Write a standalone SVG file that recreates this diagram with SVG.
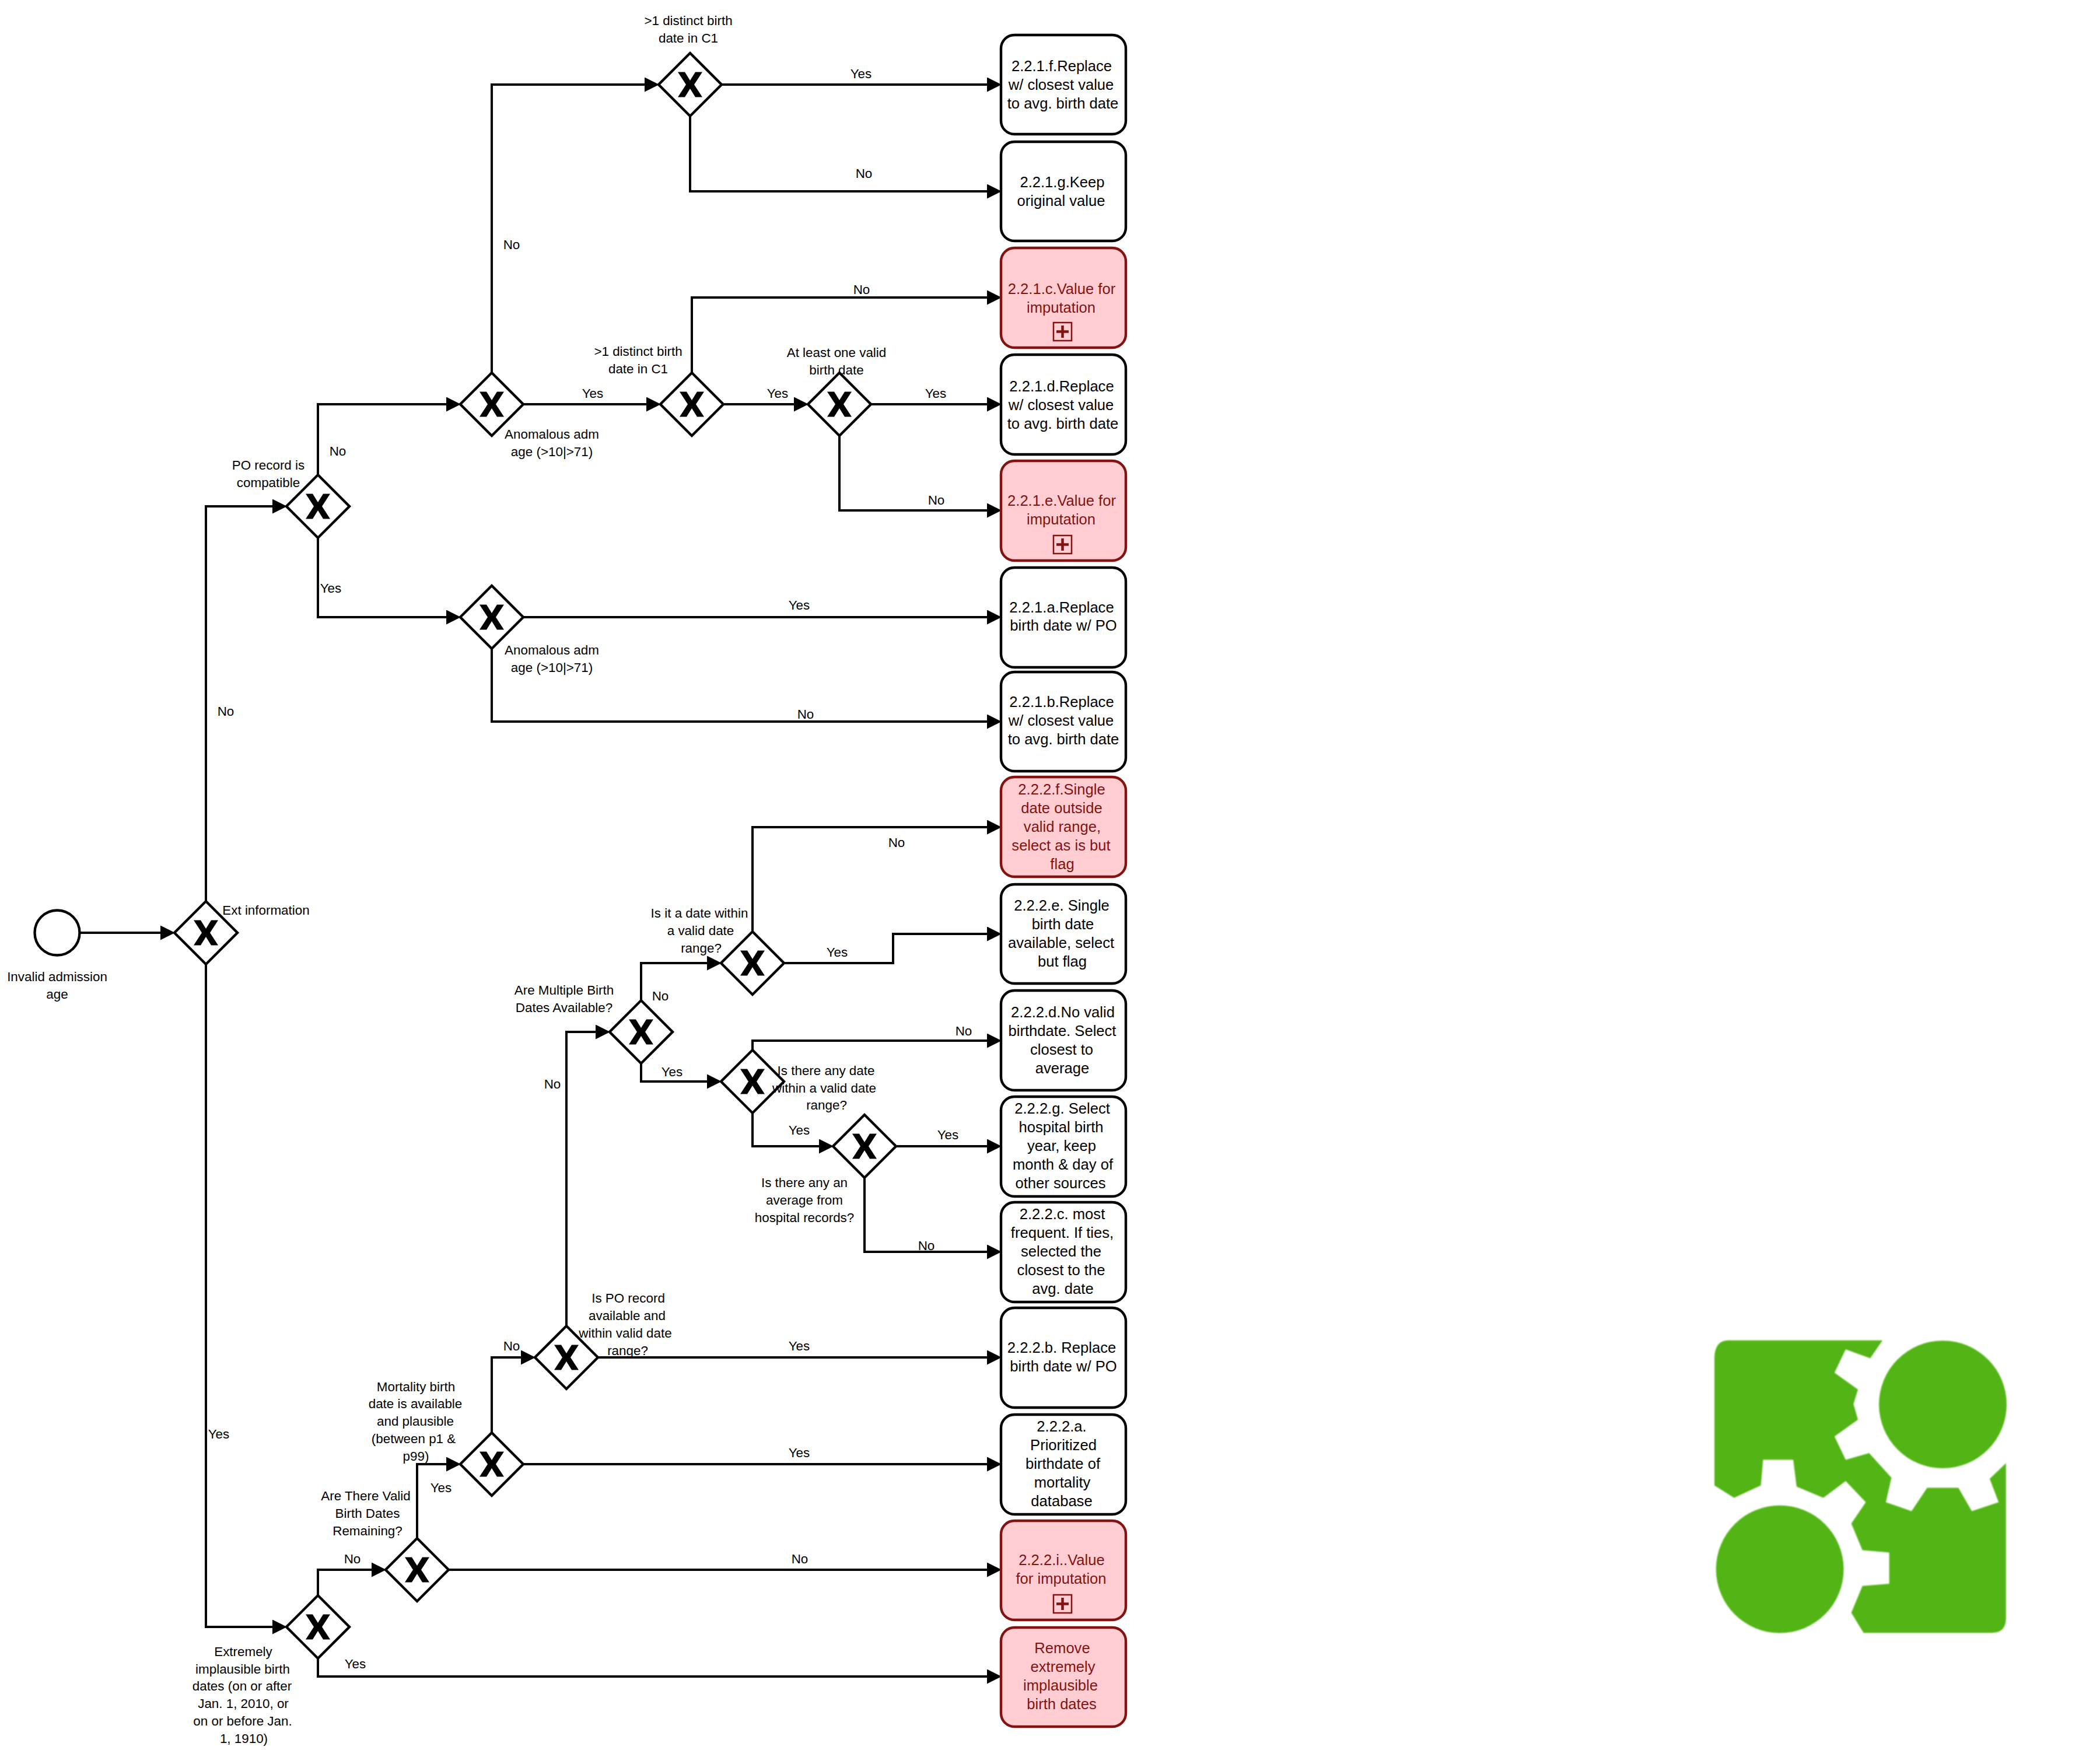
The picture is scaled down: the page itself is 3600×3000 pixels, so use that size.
<svg xmlns="http://www.w3.org/2000/svg" width="3600" height="3000" viewBox="0 0 3600 3000">
<style>
text{font-family:"Liberation Sans",Arial,sans-serif;text-anchor:middle;fill:#000}
.l{font-size:22.4px}
.t{font-size:25.6px}
.r{fill:#831311}
.box{fill:#fff;stroke:#000;stroke-width:4.4}
.red{fill:#ffcdd2;stroke:#831311;stroke-width:4.4}
.c{fill:none;stroke:#000;stroke-width:4;stroke-linejoin:miter;marker-end:url(#arrow)}
.gd{fill:#fff;stroke:#000;stroke-width:4.4;stroke-linejoin:miter}
.ev{fill:#fff;stroke:#000;stroke-width:4.4}
.mk{fill:none;stroke:#831311;stroke-width:2.5}
.mp{fill:none;stroke:#831311;stroke-width:4.5}
</style>
<defs>
<marker id="arrow" markerUnits="userSpaceOnUse" markerWidth="26" markerHeight="26" refX="14" refY="12.5" orient="auto"><polygon points="0,0 25,12.5 0,25" fill="#000"/></marker>
<g id="gw"><polygon class="gd" points="0,-54 54,0 0,54 -54,0"/><polygon fill="#000" points="-21,-21.5 -9,-21.5 0,-7 9,-21.5 21,-21.5 7,0 21,21.5 9,21.5 0,7 -9,21.5 -21,21.5 -7,0"/></g>
<g id="plus"><rect class="mk" x="0" y="0" width="31" height="31"/><path class="mp" d="M15.5 5V26M5 15.5H26"/></g>
<filter id="soft" x="-5%" y="-5%" width="110%" height="110%"><feGaussianBlur stdDeviation="3"/></filter>
</defs>
<rect width="3600" height="3000" fill="#fff"/>

<g id="connectors">
<path class="c" d="M137 1599H289"/>
<path class="c" d="M353 1545V868H481"/>
<path class="c" d="M353 1653V2789H481"/>
<path class="c" d="M545 814V693H779"/>
<path class="c" d="M545 922V1058H779"/>
<path class="c" d="M843 639V145H1119"/>
<path class="c" d="M897 693H1122"/>
<path class="c" d="M1237 145H1706"/>
<path class="c" d="M1183 199V328H1706"/>
<path class="c" d="M1186 639V510H1706"/>
<path class="c" d="M1240 693H1375"/>
<path class="c" d="M1493 693H1706"/>
<path class="c" d="M1439 747V875H1706"/>
<path class="c" d="M897 1058H1706"/>
<path class="c" d="M843 1112V1237H1706"/>
<path class="c" d="M1099 1715V1651H1226"/>
<path class="c" d="M1099 1823V1854H1226"/>
<path class="c" d="M1290 1597V1418H1706"/>
<path class="c" d="M1344 1651H1531V1601H1706"/>
<path class="c" d="M1290 1800V1784H1706"/>
<path class="c" d="M1290 1908V1965H1418"/>
<path class="c" d="M1536 1965H1706"/>
<path class="c" d="M1482 2019V2146H1706"/>
<path class="c" d="M971 2273V1769H1035"/>
<path class="c" d="M1025 2327H1706"/>
<path class="c" d="M843 2456V2327H907"/>
<path class="c" d="M897 2510H1706"/>
<path class="c" d="M715 2637V2510H779"/>
<path class="c" d="M769 2691H1706"/>
<path class="c" d="M545 2735V2691H651"/>
<path class="c" d="M545 2843V2874H1706"/>
<g id="connector-labels">
<text class="l" x="1476" y="134">Yes</text>
<text class="l" x="1481" y="305">No</text>
<text class="l" x="877" y="427">No</text>
<text class="l" x="1477" y="504">No</text>
<text class="l" x="1016" y="682">Yes</text>
<text class="l" x="1333" y="682">Yes</text>
<text class="l" x="1604" y="682">Yes</text>
<text class="l" x="1605" y="865">No</text>
<text class="l" x="579" y="781">No</text>
<text class="l" x="567" y="1016">Yes</text>
<text class="l" x="387" y="1227">No</text>
<text class="l" x="1370" y="1045">Yes</text>
<text class="l" x="1381" y="1232">No</text>
<text class="l" x="1537" y="1452">No</text>
<text class="l" x="1435" y="1640">Yes</text>
<text class="l" x="1132" y="1715">No</text>
<text class="l" x="1152" y="1845">Yes</text>
<text class="l" x="1652" y="1775">No</text>
<text class="l" x="947" y="1866">No</text>
<text class="l" x="1370" y="1945">Yes</text>
<text class="l" x="1625" y="1953">Yes</text>
<text class="l" x="1588" y="2143">No</text>
<text class="l" x="877" y="2315">No</text>
<text class="l" x="1370" y="2315">Yes</text>
<text class="l" x="375" y="2466">Yes</text>
<text class="l" x="1370" y="2498">Yes</text>
<text class="l" x="756" y="2558">Yes</text>
<text class="l" x="604" y="2680">No</text>
<text class="l" x="1371" y="2680">No</text>
<text class="l" x="609" y="2860">Yes</text>
</g>
</g>

<g id="start"><circle class="ev" cx="98" cy="1599" r="38.5"/>
<text class="l" x="98" y="1682">Invalid admission</text><text class="l" x="98" y="1712">age</text></g>

<g id="gw-ext"><use href="#gw" x="353" y="1599"/><text class="l" x="456" y="1568">Ext information</text></g>
<g id="gw-po"><use href="#gw" x="545" y="868"/><text class="l" x="460" y="805">PO record is</text><text class="l" x="460" y="835">compatible</text></g>
<g id="gw-anom1"><use href="#gw" x="843" y="693"/><text class="l" x="946" y="752">Anomalous adm</text><text class="l" x="946" y="782">age (&gt;10|&gt;71)</text></g>
<g id="gw-anom2"><use href="#gw" x="843" y="1058"/><text class="l" x="946" y="1122">Anomalous adm</text><text class="l" x="946" y="1152">age (&gt;10|&gt;71)</text></g>
<g id="gw-distinct1"><use href="#gw" x="1183" y="145"/><text class="l" x="1180" y="43">&gt;1 distinct birth</text><text class="l" x="1180" y="73">date in C1</text></g>
<g id="gw-distinct2"><use href="#gw" x="1186" y="693"/><text class="l" x="1094" y="610">&gt;1 distinct birth</text><text class="l" x="1094" y="640">date in C1</text></g>
<g id="gw-atleast"><use href="#gw" x="1439" y="693"/><text class="l" x="1434" y="612">At least one valid</text><text class="l" x="1434" y="642">birth date</text></g>
<g id="gw-multiple"><use href="#gw" x="1099" y="1769"/><text class="l" x="967" y="1705">Are Multiple Birth</text><text class="l" x="967" y="1735">Dates Available?</text></g>
<g id="gw-isdate"><use href="#gw" x="1290" y="1651"/><text class="l" x="1199" y="1573">Is it a date within</text><text class="l" x="1201" y="1603">a valid date</text><text class="l" x="1202" y="1633">range?</text></g>
<g id="gw-anydate"><use href="#gw" x="1290" y="1854"/><text class="l" x="1416" y="1843">Is there any date</text><text class="l" x="1413" y="1873">within a valid date</text><text class="l" x="1417" y="1902">range?</text></g>
<g id="gw-hospital"><use href="#gw" x="1482" y="1965"/><text class="l" x="1379" y="2035">Is there any an</text><text class="l" x="1379" y="2065">average from</text><text class="l" x="1379" y="2095">hospital records?</text></g>
<g id="gw-porecord"><use href="#gw" x="971" y="2327"/><text class="l" x="1077" y="2233">Is PO record</text><text class="l" x="1075" y="2263">available and</text><text class="l" x="1072" y="2293">within valid date</text><text class="l" x="1076" y="2323">range?</text></g>
<g id="gw-mortality"><use href="#gw" x="843" y="2510"/><text class="l" x="713" y="2385">Mortality birth</text><text class="l" x="712" y="2414">date is available</text><text class="l" x="712" y="2444">and plausible</text><text class="l" x="709" y="2474">(between p1 &amp;</text><text class="l" x="713" y="2504">p99)</text></g>
<g id="gw-valid"><use href="#gw" x="715" y="2691"/><text class="l" x="627" y="2572">Are There Valid</text><text class="l" x="630" y="2602">Birth Dates</text><text class="l" x="630" y="2632">Remaining?</text></g>
<g id="gw-extreme"><use href="#gw" x="545" y="2789"/><text class="l" x="417" y="2839">Extremely</text><text class="l" x="416" y="2869">implausible birth</text><text class="l" x="415" y="2898">dates (on or after</text><text class="l" x="417" y="2928">Jan. 1, 2010, or</text><text class="l" x="416" y="2958">on or before Jan.</text><text class="l" x="418" y="2988">1, 1910)</text></g>

<g id="task-221f"><rect class="box" x="1716" y="60" width="214" height="170" rx="23"/><text class="t" x="1820" y="122">2.2.1.f.Replace</text><text class="t" x="1819" y="154">w/ closest value</text><text class="t" x="1822" y="186">to avg. birth date</text></g>
<g id="task-221g"><rect class="box" x="1716" y="243" width="214" height="170" rx="23"/><text class="t" x="1821" y="321">2.2.1.g.Keep</text><text class="t" x="1819" y="353">original value</text></g>
<g id="task-221c"><rect class="red" x="1716" y="425" width="214" height="171" rx="23"/><text class="t r" x="1820" y="504">2.2.1.c.Value for</text><text class="t r" x="1819" y="536">imputation</text><use href="#plus" x="1806" y="553"/></g>
<g id="task-221d"><rect class="box" x="1716" y="608" width="214" height="171" rx="23"/><text class="t" x="1820" y="671">2.2.1.d.Replace</text><text class="t" x="1819" y="703">w/ closest value</text><text class="t" x="1822" y="735">to avg. birth date</text></g>
<g id="task-221e"><rect class="red" x="1716" y="790" width="214" height="171" rx="23"/><text class="t r" x="1820" y="867">2.2.1.e.Value for</text><text class="t r" x="1819" y="899">imputation</text><use href="#plus" x="1806" y="918"/></g>
<g id="task-221a"><rect class="box" x="1716" y="973" width="214" height="171" rx="23"/><text class="t" x="1820" y="1050">2.2.1.a.Replace</text><text class="t" x="1823" y="1081">birth date w/ PO</text></g>
<g id="task-221b"><rect class="box" x="1716" y="1152" width="214" height="170" rx="23"/><text class="t" x="1820" y="1212">2.2.1.b.Replace</text><text class="t" x="1819" y="1244">w/ closest value</text><text class="t" x="1823" y="1276">to avg. birth date</text></g>
<g id="task-222f"><rect class="red" x="1716" y="1332" width="214" height="171" rx="23"/><text class="t r" x="1820" y="1362">2.2.2.f.Single</text><text class="t r" x="1820" y="1394">date outside</text><text class="t r" x="1821" y="1426">valid range,</text><text class="t r" x="1819" y="1458">select as is but</text><text class="t r" x="1821" y="1490">flag</text></g>
<g id="task-222e"><rect class="box" x="1716" y="1516" width="214" height="170" rx="23"/><text class="t" x="1820" y="1561">2.2.2.e. Single</text><text class="t" x="1822" y="1593">birth date</text><text class="t" x="1819" y="1625">available, select</text><text class="t" x="1821" y="1657">but flag</text></g>
<g id="task-222d"><rect class="box" x="1716" y="1698" width="214" height="171" rx="23"/><text class="t" x="1822" y="1744">2.2.2.d.No valid</text><text class="t" x="1821" y="1776">birthdate. Select</text><text class="t" x="1820" y="1808">closest to</text><text class="t" x="1821" y="1840">average</text></g>
<g id="task-222g"><rect class="box" x="1716" y="1880" width="214" height="171" rx="23"/><text class="t" x="1821" y="1909">2.2.2.g. Select</text><text class="t" x="1819" y="1941">hospital birth</text><text class="t" x="1820" y="1973">year, keep</text><text class="t" x="1822" y="2005">month &amp; day of</text><text class="t" x="1818" y="2037">other sources</text></g>
<g id="task-222c"><rect class="box" x="1716" y="2061" width="214" height="171" rx="23"/><text class="t" x="1821" y="2090">2.2.2.c. most</text><text class="t" x="1821" y="2122">frequent. If ties,</text><text class="t" x="1819" y="2154">selected the</text><text class="t" x="1819" y="2186">closest to the</text><text class="t" x="1822" y="2218">avg. date</text></g>
<g id="task-222b"><rect class="box" x="1716" y="2242" width="214" height="171" rx="23"/><text class="t" x="1820" y="2319">2.2.2.b. Replace</text><text class="t" x="1823" y="2351">birth date w/ PO</text></g>
<g id="task-222a"><rect class="box" x="1716" y="2425" width="214" height="171" rx="23"/><text class="t" x="1820" y="2454">2.2.2.a.</text><text class="t" x="1823" y="2486">Prioritized</text><text class="t" x="1822" y="2518">birthdate of</text><text class="t" x="1821" y="2550">mortality</text><text class="t" x="1820" y="2582">database</text></g>
<g id="task-222i"><rect class="red" x="1716" y="2607" width="214" height="170" rx="23"/><text class="t r" x="1820" y="2683">2.2.2.i..Value</text><text class="t r" x="1819" y="2715">for imputation</text><use href="#plus" x="1806" y="2734"/></g>
<g id="task-remove"><rect class="red" x="1716" y="2790" width="214" height="170" rx="23"/><text class="t r" x="1821" y="2834">Remove</text><text class="t r" x="1822" y="2866">extremely</text><text class="t r" x="1818" y="2898">implausible</text><text class="t r" x="1820" y="2930">birth dates</text></g>

<g id="logo" transform="translate(2900 2250) scale(.3827)" fill="#52b415" filter="url(#soft)">
<circle cx="1125" cy="412" r="286"/>
<circle cx="395" cy="1150" r="286"/>
<path d="M102 200Q105 125 165 125H855L800 205L690 165L640 270L745 345L725 410L745 480L640 555L690 660L795 630L895 740L870 850L985 890L1055 785L1195 785L1255 890L1375 850L1335 745L1408 675V1370Q1408 1435 1345 1435H770L715 1345L765 1225L885 1215V1075L765 1065L715 945L780 850L690 755L590 830L470 780L455 660H320L310 775L190 830L102 775Z"/>
</g>
</svg>
